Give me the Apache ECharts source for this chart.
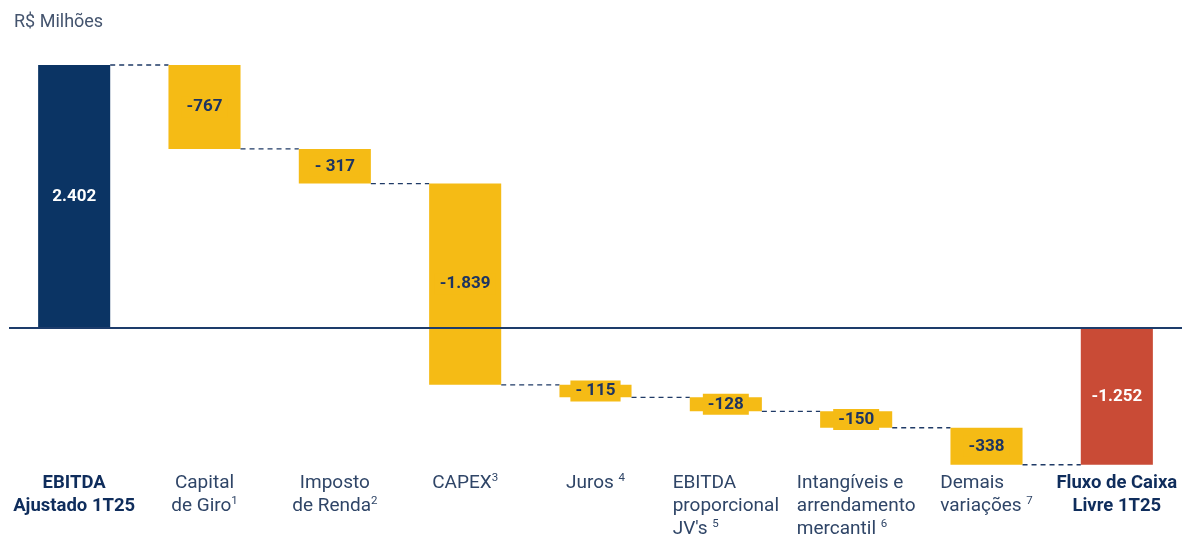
<!DOCTYPE html>
<html>
<head>
<meta charset="utf-8">
<script src="https://cdn.jsdelivr.net/npm/echarts@6/dist/echarts.min.js"></script>
<style>
  html, body { margin: 0; padding: 0; background: #fff; }
  #main { width: 1184px; height: 544px; }
</style>
</head>
<body>
<div id="main"></div>
<script>
// 数据
var categories = ['EBITDA\nAjustado 1T25', 'Capital\nde Giro', 'Imposto\nde Renda', 'CAPEX', 'Juros ',
    "EBITDA\nproporcional\nJV's ", 'Intangíveis e\narrendamento\nmercantil ', 'Demais\nvariações ', 'Fluxo de Caixa\nLivre 1T25'];
var footnotes = ['', '1', '2', '3', '4', '5', '6', '7', ''];
var values = [2402, -767, -317, -1839, -115, -128, -150, -338, -1252];
var valueLabels = ['2.402', '-767', '- 317', '-1.839', '- 115', '-128', '-150', '-338', '-1.252'];
var barTypes = ['total', 'delta', 'delta', 'delta', 'delta', 'delta', 'delta', 'delta', 'result'];

var navy = '#0b3464';
var yellow = '#f5bb15';
var red = '#c94b36';
var textNavy = '#1d3461';

// 计算瀑布起止
var waterfall = [];
var acc = 0;
for (var i = 0; i < values.length; i++) {
    var start, end;
    if (barTypes[i] === 'delta') {
        start = acc;
        end = acc + values[i];
    } else {
        start = 0;
        end = values[i];
    }
    acc = end;
    waterfall.push([i, start, end]);
}

function renderItem(params, api) {
    var idx = api.value(0);
    var p0 = api.coord([idx, api.value(1)]);
    var p1 = api.coord([idx, api.value(2)]);
    var band = api.size([1, 0])[0];
    var w = band * 0.553;
    var top = Math.min(p0[1], p1[1]);
    var h = Math.abs(p1[1] - p0[1]);
    var type = barTypes[idx];
    var color = type === 'total' ? navy : (type === 'result' ? red : yellow);
    var children = [{
        type: 'rect',
        shape: { x: p0[0] - w / 2, y: top, width: w, height: h },
        style: { fill: color }
    }];
    // 虚线连接
    if (idx < values.length - 1) {
        children.push({
            type: 'line',
            shape: { x1: p1[0] + w / 2, y1: p1[1], x2: p1[0] + band - w / 2, y2: p1[1] },
            style: { stroke: '#1f3a66', lineWidth: 1.3, lineDash: [5, 4] }
        });
    }
    children.push({
        type: 'text',
        z2: 10,
        style: {
            text: valueLabels[idx],
            x: p0[0],
            y: top + h / 2,
            align: 'center',
            verticalAlign: 'middle',
            font: 'bold 17px Roboto',
            fill: type === 'delta' ? textNavy : '#ffffff',
            backgroundColor: type === 'delta' ? yellow : 'transparent',
            padding: [2, 5]
        }
    });
    return { type: 'group', children: children };
}

var myChart = echarts.init(document.getElementById('main'));

var option = {
    animation: false,
    title: {
        text: 'R$ Milhões',
        left: 9,
        top: 8,
        textStyle: { fontFamily: 'Roboto', fontSize: 18, fontWeight: 'normal', color: '#44546e' }
    },
    grid: { left: 9, right: 2, top: 65, bottom: 74 },
    xAxis: {
        type: 'category',
        data: categories,
        axisLine: { show: false, onZero: false },
        axisTick: { show: false },
        axisLabel: {
            interval: 0,
            margin: 2,
            formatter: function (val, index) {
                var st = 'n', sup = 's';
                if (index === 0 || index === 8) st = 'b';
                if (index >= 5 && index <= 7) { st = 'l'; sup = 'ls'; }
                var lines = val.split('\n');
                var out = lines.map(function (ln) { return '{' + st + '|' + ln + '}'; });
                if (footnotes[index]) out[out.length - 1] += '{' + sup + '|' + footnotes[index] + '}';
                return out.join('\n');
            },
            rich: {
                n: { fontFamily: 'Roboto', fontSize: 19, color: '#2f4567', lineHeight: 23 },
                l: { fontFamily: 'Roboto', fontSize: 19, color: '#2f4567', lineHeight: 23, align: 'left' },
                b: { fontFamily: 'Roboto', fontSize: 18.5, fontWeight: 'bold', color: '#0f2d5c', lineHeight: 23 },
                s: { fontFamily: 'Roboto', fontSize: 11.5, color: '#2f4567', lineHeight: 23, verticalAlign: 'top' },
                ls: { fontFamily: 'Roboto', fontSize: 11.5, color: '#2f4567', lineHeight: 23, verticalAlign: 'top', align: 'left' }
            }
        }
    },
    yAxis: {
        type: 'value',
        min: -1300,
        max: 2402,
        show: false,
        splitLine: { show: false }
    },
    series: [
        {
            type: 'custom',
            renderItem: renderItem,
            data: waterfall,
            encode: { x: 0, y: [1, 2] }
        },
        {
            type: 'line',
            data: [],
            silent: true,
            markLine: {
                silent: true,
                symbol: 'none',
                label: { show: false },
                lineStyle: { color: '#1d3c6b', width: 2, type: 'solid' },
                data: [{ yAxis: 0 }]
            }
        }
    ]
};

myChart.setOption(option);
</script>
</body>
</html>
